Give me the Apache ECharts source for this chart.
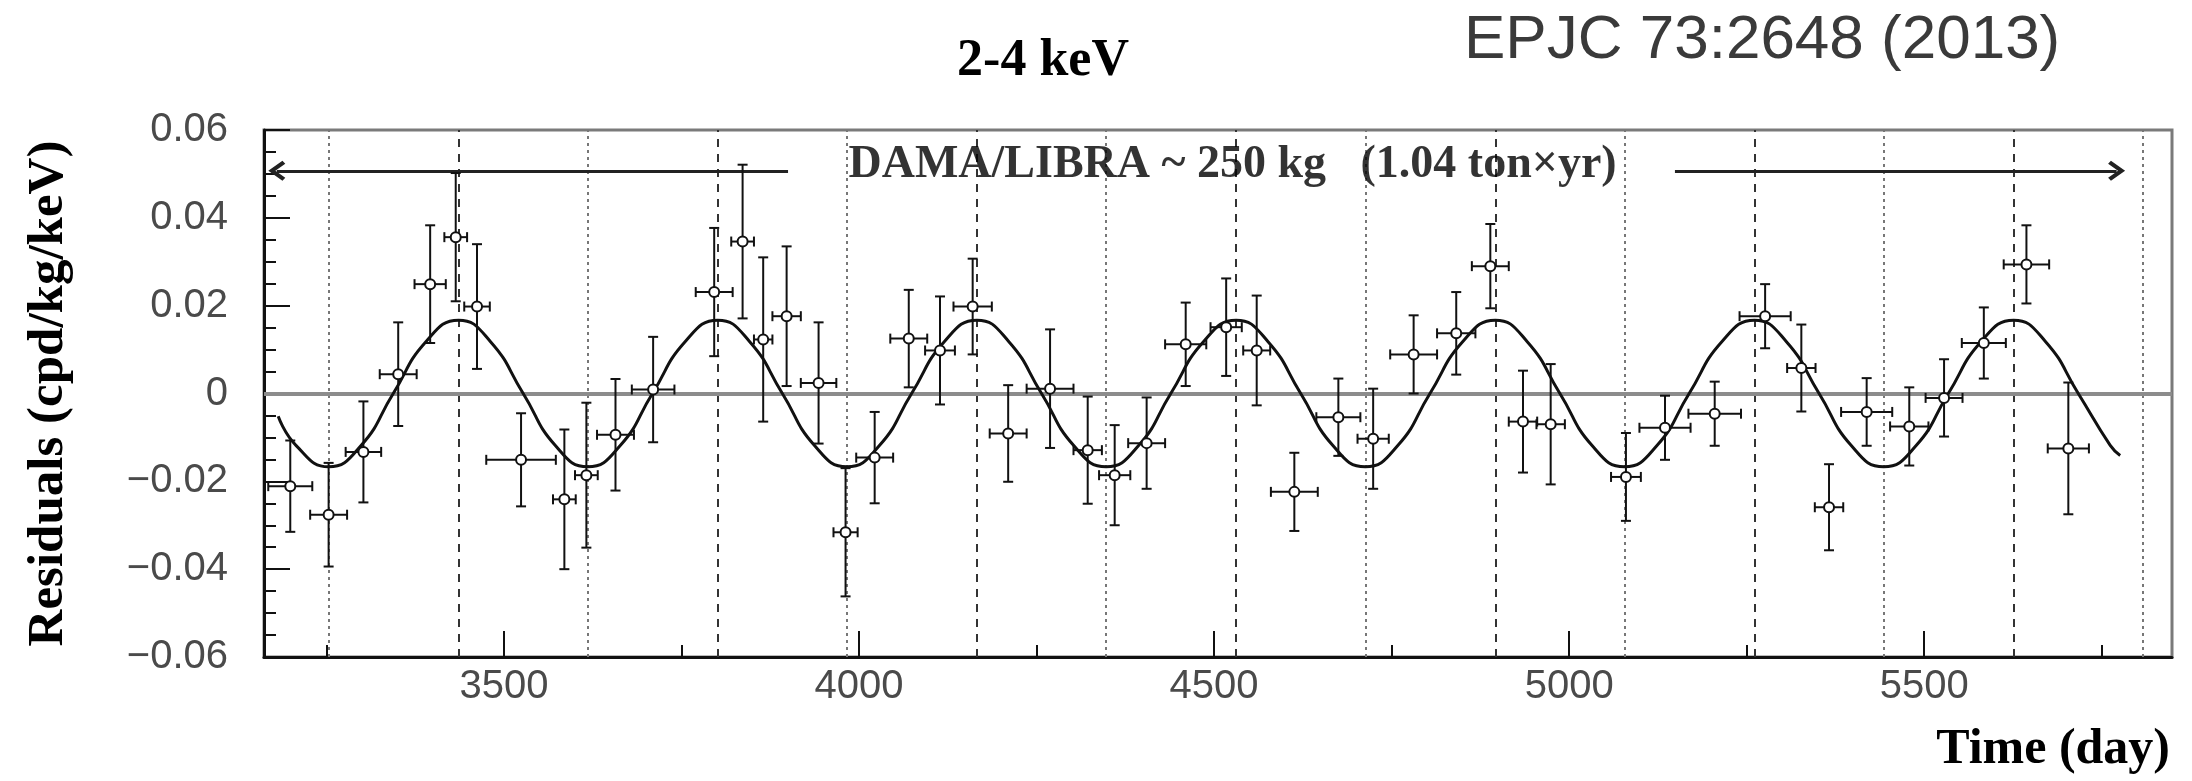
<!DOCTYPE html>
<html>
<head>
<meta charset="utf-8">
<script src="https://cdn.jsdelivr.net/npm/echarts@6/dist/echarts.min.js"></script>
<style>html,body{margin:0;padding:0;background:#fff}#c{width:2192px;height:781px}</style>
</head>
<body>
<div id="c"></div>
<script>
// ---- data ----
const days      = [3199,3253,3302,3351,3396,3432,3462,3524,3585,3616,3657,3710,3796,3836,3865,3898,3943,3981,4022,4070,4114,4160,4210,4269,4322,4360,4405,4460,4517,4560,4613,4675,4724,4781,4841,4889,4935,4974,5080,5135,5205,5276,5327,5366,5419,5479,5528,5584,5644,5703];
const residuals = [-0.0211,-0.0276,-0.0133,0.0044,0.0249,0.0356,0.0198,-0.0151,-0.0241,-0.0186,-0.0094,0.0009,0.0231,0.0346,0.0123,0.0176,0.0024,-0.0316,-0.0146,0.0125,0.0098,0.0198,-0.0091,0.0011,-0.0129,-0.0186,-0.0113,0.0112,0.0151,0.0098,-0.0224,-0.0054,-0.0103,0.0089,0.0137,0.0290,-0.0064,-0.0070,-0.0190,-0.0078,-0.0046,0.0176,0.0058,-0.0259,-0.0042,-0.0075,-0.0010,0.0115,0.0294,-0.0125];
const dayErr    = [31,26,25,26,22,16,18,49,16,16,26,30,26,16,13,20,25,17,26,26,21,27,26,33,20,22,26,29,22,19,33,31,22,33,27,26,20,20,21,36,37,36,20,20,36,27,26,31,32,29];
const resErr    = [0.0104,0.0118,0.0115,0.0118,0.0134,0.0146,0.0142,0.0106,0.0159,0.0165,0.0127,0.0120,0.0146,0.0175,0.0187,0.0159,0.0138,0.0146,0.0104,0.0111,0.0123,0.0109,0.0110,0.0135,0.0122,0.0114,0.0104,0.0095,0.0111,0.0125,0.0089,0.0088,0.0114,0.0089,0.0094,0.0096,0.0116,0.0137,0.0100,0.0073,0.0073,0.0073,0.0099,0.0098,0.0077,0.0089,0.0088,0.0081,0.0089,0.0150];

// fitted modulation curve
const fitDays   = [3182,3207,3253,3299,3344,3390,3436,3481,3527,3572,3618,3664,3709,3755,3801,3846,3892,3937,3983,4029,4074,4120,4166,4211,4257,4302,4348,4394,4439,4485,4531,4576,4622,4667,4713,4759,4804,4850,4896,4941,4987,5032,5078,5124,5169,5215,5261,5306,5352,5397,5443,5489,5534,5580,5626,5671,5717,5762,5776];
const fitValues = [-0.0052,-0.0118,-0.0167,-0.0118,0,0.0118,0.0167,0.0118,0,-0.0118,-0.0167,-0.0118,0,0.0118,0.0167,0.0118,0,-0.0118,-0.0167,-0.0118,0,0.0118,0.0167,0.0118,0,-0.0118,-0.0167,-0.0118,0,0.0118,0.0167,0.0118,0,-0.0118,-0.0167,-0.0118,0,0.0118,0.0167,0.0118,0,-0.0118,-0.0167,-0.0118,0,0.0118,0.0167,0.0118,0,-0.0118,-0.0167,-0.0118,0,0.0118,0.0167,0.0118,0,-0.0118,-0.0141];

const juneDays  = [3436,3801,4166,4531,4896,5261,5626];
const decDays   = [3253,3618,3983,4348,4713,5078,5443,5808];

const xTicks      = [3500,4000,4500,5000,5500];
const xMinorTicks = [3250,3750,4250,4750,5250,5750];
const yTicks      = [-0.06,-0.04,-0.02,0,0.02,0.04,0.06];
const xRange      = [3162,5849];
const yRange      = [-0.06,0.06];

const arrowLeft   = [3180,3900];
const arrowRight  = [5149,5771];
const arrowLevel  = 0.0507;
const bannerText  = 'DAMA/LIBRA ~ 250 kg   (1.04 ton\u00d7yr)';
const bannerPos   = [4526,0.0521];

// ---- chart ----
const chart = echarts.init(document.getElementById('c'), null, {renderer:'canvas'});
const serif = '"Liberation Serif", "DejaVu Serif", serif';
const sans  = '"Liberation Sans", Arial, sans-serif';
const chev  = 'path://M10,0 L20,10 L17,12 L10,5 L3,12 L0,10 Z';

const marks = [];
juneDays.forEach(d => marks.push({xAxis:d, lineStyle:{type:[8,7], color:'#333', width:2}}));
decDays.forEach(d => marks.push({xAxis:d, lineStyle:{type:[3,4], color:'#777', width:2}}));
marks.push({yAxis:0, lineStyle:{type:'solid', color:'#8c8c8c', width:4}});
marks.push([{coord:[arrowLeft[0],arrowLevel], symbol:chev, symbolSize:[20,17], lineStyle:{type:'solid',color:'#222',width:3}},
            {coord:[arrowLeft[1],arrowLevel], symbol:'none'}]);
marks.push([{coord:[arrowRight[0],arrowLevel], symbol:'none', lineStyle:{type:'solid',color:'#222',width:3}},
            {coord:[arrowRight[1],arrowLevel], symbol:chev, symbolSize:[20,17]}]);

const pts = days.map((d,i) => [d, residuals[i], dayErr[i], resErr[i]]);

chart.setOption({
  animation:false,
  backgroundColor:'#fff',
  grid:{left:264, right:20, top:130, bottom:124, show:true, borderColor:'#7a7a7a', borderWidth:3, backgroundColor:'transparent'},
  xAxis:[{
    type:'value', min:xRange[0], max:xRange[1], position:'bottom',
    axisLine:{show:true, onZero:false, lineStyle:{color:'#111', width:3}},
    splitLine:{show:false},
    axisTick:{show:true, inside:true, length:26, customValues:xTicks, lineStyle:{color:'#111', width:2}},
    axisLabel:{show:true, customValues:xTicks, fontSize:40, fontFamily:sans, color:'#4a4a4a', margin:10,
      formatter:v => String(Math.round(v))}
  },{
    type:'value', min:xRange[0], max:xRange[1], position:'bottom', offset:0,
    axisLine:{show:false, onZero:false}, splitLine:{show:false}, axisLabel:{show:false},
    axisTick:{show:true, inside:true, length:12, customValues:xMinorTicks, lineStyle:{color:'#111', width:2}}
  }],
  yAxis:{
    type:'value', min:yRange[0], max:yRange[1], interval:0.02,
    name:'Residuals (cpd/kg/keV)', nameLocation:'middle', nameGap:190, nameRotate:90,
    nameTextStyle:{fontFamily:serif, fontWeight:'bold', fontSize:51, color:'#000'},
    axisLine:{show:true, onZero:false, lineStyle:{color:'#111', width:3}},
    splitLine:{show:false}, minorSplitLine:{show:false},
    axisTick:{show:true, inside:true, length:26, customValues:yTicks, lineStyle:{color:'#111', width:2}},
    minorTick:{show:true, splitNumber:4, length:12, lineStyle:{color:'#111', width:2}},
    axisLabel:{show:true, customValues:yTicks, fontSize:40, fontFamily:sans, color:'#4a4a4a', margin:36,
      formatter:v => Math.abs(v) < 1e-9 ? '0' : (v < 0 ? '\u22120.' : '0.') + Math.abs(v).toFixed(2).split('.')[1]}
  },
  graphic:[
    {type:'text', x:1043, y:62, style:{text:'2-4 keV', font:'bold 52px ' + serif, fill:'#000', textAlign:'center', textVerticalAlign:'middle', align:'center', verticalAlign:'middle'}},
    {type:'text', x:1464, y:41, style:{text:'EPJC 73:2648 (2013)', font:'62px ' + sans, fill:'#3a3a3a', textAlign:'left', textVerticalAlign:'middle', align:'left', verticalAlign:'middle'}},
    {type:'text', x:2170, y:750, style:{text:'Time (day)', font:'bold 50px ' + serif, fill:'#000', textAlign:'right', textVerticalAlign:'middle', align:'right', verticalAlign:'middle'}}
  ],
  series:[
    {
      type:'line', name:'fit', data:fitDays.map((d,i)=>[d, fitValues[i]]),
      smooth:true, symbol:'none', silent:true, z:3,
      lineStyle:{color:'#111', width:3},
      markLine:{silent:true, symbol:['none','none'], label:{show:false}, animation:false, z:2, data:marks}
    },
    {
      type:'custom', name:'data', data:pts, z:5, silent:true,
      renderItem:(params, api) => {
        const x = api.value(0), y = api.value(1), ex = api.value(2), ey = api.value(3);
        const c = api.coord([x,y]);
        const l = api.coord([x-ex,y]), r = api.coord([x+ex,y]);
        const t = api.coord([x,y+ey]), b = api.coord([x,y-ey]);
        const cap = 5, rad = 5;
        const st = {stroke:'#111', lineWidth:2};
        return {type:'group', children:[
          {type:'line', shape:{x1:l[0],y1:c[1],x2:r[0],y2:c[1]}, style:st},
          {type:'line', shape:{x1:c[0],y1:t[1],x2:c[0],y2:b[1]}, style:st},
          {type:'line', shape:{x1:c[0]-cap,y1:t[1],x2:c[0]+cap,y2:t[1]}, style:st},
          {type:'line', shape:{x1:c[0]-cap,y1:b[1],x2:c[0]+cap,y2:b[1]}, style:st},
          {type:'line', shape:{x1:l[0],y1:c[1]-cap,x2:l[0],y2:c[1]+cap}, style:st},
          {type:'line', shape:{x1:r[0],y1:c[1]-cap,x2:r[0],y2:c[1]+cap}, style:st},
          {type:'circle', shape:{cx:c[0], cy:c[1], r:rad}, style:{fill:'#fff', stroke:'#111', lineWidth:2}}
        ]};
      }
    },
    {
      type:'scatter', name:'banner', data:[bannerPos], symbolSize:0, silent:true, z:6,
      label:{show:true, position:'inside', formatter:bannerText, fontFamily:serif, fontWeight:'bold', fontSize:46, color:'#000'}
    }
  ]
});
</script>
</body>
</html>
